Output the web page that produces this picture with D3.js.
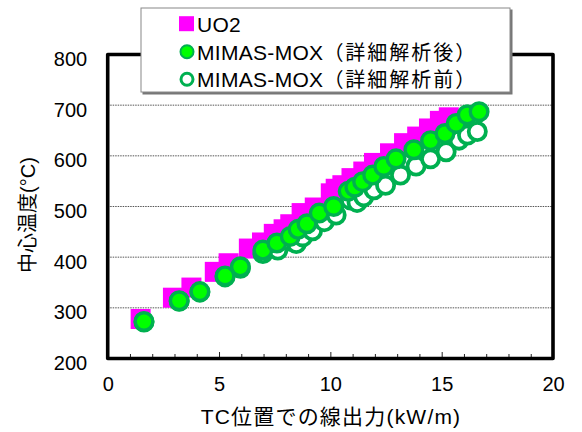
<!DOCTYPE html>
<html>
<head>
<meta charset="utf-8">
<script src="https://cdn.jsdelivr.net/npm/d3@7"></script>
<style>
  body { margin: 0; background: #fff; }
  svg { display: block; }
  text { font-family: "Liberation Sans", Arial, "Noto Sans CJK JP", sans-serif; fill: #000; }
  .cjk { font-family: "Noto Sans CJK JP", sans-serif; }
</style>
</head>
<body>
<svg id="chart" width="582" height="432"></svg>
<script>
// Centre temperature vs. linear heat rate at the TC position
const uo2Power = [1.48, 2.93, 3.76, 4.81, 5.43, 6.34, 6.93, 7.46, 7.90, 8.20, 8.71, 9.30, 10.02, 10.24, 10.54, 10.95, 11.48, 11.96, 12.68, 13.31, 13.90, 14.43, 14.92, 15.32];
const uo2Temp  = [278, 320, 340, 371, 388, 417, 429, 446, 455, 465, 487, 498, 526, 535, 542, 556, 569, 586, 605, 625, 638, 654, 669, 676];

const moxAfterPower = [1.63, 3.21, 4.14, 5.27, 5.96, 6.97, 7.60, 8.20, 8.55, 8.95, 9.50, 10.15, 10.80, 11.10, 11.45, 11.90, 12.40, 12.95, 13.75, 14.50, 15.15, 15.65, 16.15, 16.68];
const moxAfterTemp  = [273, 314, 332, 363, 381, 414, 428, 441, 455, 466, 487, 500, 530, 538, 549, 562, 579, 594, 612, 630, 644, 664, 681, 687];

const moxBeforePower = [1.63, 3.21, 4.14, 5.27, 5.96, 6.97, 7.64, 8.17, 8.47, 8.76, 9.20, 9.73, 10.26, 10.90, 11.20, 11.50, 11.96, 12.48, 13.15, 13.85, 14.50, 15.20, 15.78, 16.16, 16.60];
const moxBeforeTemp  = [272, 313, 331, 361, 378, 407, 414, 432, 427, 440, 452, 470, 483, 513, 508, 519, 533, 542, 562, 580, 594, 608, 631, 641, 648];

const xTicks = [0, 5, 10, 15, 20];
const yTicks = [200, 300, 400, 500, 600, 700, 800];
const gridValues = [300, 400, 500, 600, 700];

// legend names split into a Latin part and a Japanese part
const seriesLatin = ["UO2", "MIMAS-MOX", "MIMAS-MOX"];
const seriesJapanese = ["", "（詳細解析後）", "（詳細解析前）"];
const xTitle = "TC位置での線出力(kW/m)";
const yTitle = "中心温度(°C)";

const svg = d3.select("#chart");
const x = d3.scaleLinear().domain([0, 20]).range([107.7, 553]);
const y = d3.scaleLinear().domain([200, 800]).range([358.5, 54.5]);

// dotted horizontal gridlines
svg.append("g").selectAll("line").data(gridValues).join("line")
  .attr("x1", x(0)).attr("x2", x(20))
  .attr("y1", d => y(d)).attr("y2", d => y(d))
  .attr("stroke", "#555").attr("stroke-width", 1).attr("stroke-dasharray", "1.5,1");

// inward minor / major ticks along the bottom
const minorAxis = d3.axisBottom(x).tickValues(d3.range(0, 21, 1).filter(v => v % 5 !== 0)).tickSize(-4.5).tickFormat("");
const majorAxis = d3.axisBottom(x).tickValues(xTicks).tickSize(-6.5).tickFormat("");
[minorAxis, majorAxis].forEach(ax => {
  const g = svg.append("g").attr("transform", `translate(0,${y(200)})`).call(ax);
  g.select(".domain").remove();
  g.selectAll("line").attr("stroke", "#222").attr("stroke-width", 1);
});

// tick labels
const xLab = svg.append("g").attr("transform", `translate(0,${y(200)})`)
  .call(d3.axisBottom(x).tickValues(xTicks).tickSize(0).tickPadding(18.5));
xLab.select(".domain").remove();
xLab.selectAll("text").attr("font-size", 20).attr("fill", "#000")
  .style("font-family", '"Liberation Sans", Arial, sans-serif');

const yLab = svg.append("g").attr("transform", `translate(${x(0)},0)`)
  .call(d3.axisLeft(y).tickValues(yTicks).tickSize(0).tickPadding(20.5));
yLab.select(".domain").remove();
yLab.selectAll("text").attr("font-size", 20).attr("fill", "#000").attr("dy", "0.55em")
  .style("font-family", '"Liberation Sans", Arial, sans-serif');

// UO2 squares
const sq = 20;
svg.append("g").selectAll("rect").data(d3.zip(uo2Power, uo2Temp)).join("rect")
  .attr("x", d => x(d[0]) - sq / 2).attr("y", d => y(d[1]) - sq / 2)
  .attr("width", sq).attr("height", sq).attr("fill", "#FF00FF");

// MIMAS-MOX before detailed analysis: open circles
svg.append("g").selectAll("circle").data(d3.zip(moxBeforePower, moxBeforeTemp)).join("circle")
  .attr("cx", d => x(d[0])).attr("cy", d => y(d[1])).attr("r", 8.6)
  .attr("fill", "#fff").attr("stroke", "#00B050").attr("stroke-width", 3.8);

// MIMAS-MOX after detailed analysis: filled circles
svg.append("g").selectAll("circle").data(d3.zip(moxAfterPower, moxAfterTemp)).join("circle")
  .attr("cx", d => x(d[0])).attr("cy", d => y(d[1])).attr("r", 8.8)
  .attr("fill", "#00FF00").attr("stroke", "#00B050").attr("stroke-width", 3.4);

// plot frame
svg.append("rect")
  .attr("x", x(0)).attr("y", y(800))
  .attr("width", x(20) - x(0)).attr("height", y(200) - y(800))
  .attr("fill", "none").attr("stroke", "#000").attr("stroke-width", 3.6)
  .attr("stroke-linejoin", "round");

// axis titles
svg.append("text").attr("x", 331).attr("y", 424).attr("text-anchor", "middle")
  .attr("font-size", 21).attr("letter-spacing", 1.2).text(xTitle);
svg.append("text").attr("transform", "translate(35,215) rotate(-90)")
  .attr("text-anchor", "middle").attr("font-size", 20).text(yTitle);

// legend
const lg = svg.append("g");
lg.append("rect").attr("x", 142.5).attr("y", 9.5).attr("width", 370).attr("height", 85).attr("fill", "#777");
lg.append("rect").attr("x", 141).attr("y", 8).attr("width", 369).attr("height", 84)
  .attr("fill", "#fff").attr("stroke", "#888").attr("stroke-width", 1);
const rows = [31.5, 59.5, 87];
const markY = [23.7, 51.7, 79.3];
lg.append("rect").attr("x", 179).attr("y", markY[0] - 7.5).attr("width", 15).attr("height", 15).attr("fill", "#FF00FF");
lg.append("circle").attr("cx", 187).attr("cy", markY[1]).attr("r", 6.5)
  .attr("fill", "#00FF00").attr("stroke", "#00B050").attr("stroke-width", 2);
lg.append("circle").attr("cx", 187).attr("cy", markY[2]).attr("r", 6)
  .attr("fill", "#fff").attr("stroke", "#00B050").attr("stroke-width", 3);
const labs = lg.selectAll("text.lab").data(d3.range(3)).join("text").attr("class", "lab")
  .attr("x", 197).attr("y", i => rows[i]);
labs.append("tspan").attr("font-size", 21).attr("letter-spacing", 0.3).text(i => seriesLatin[i]);
labs.append("tspan").attr("class", "cjk").attr("font-size", 20).attr("letter-spacing", 2).text(i => seriesJapanese[i]);
</script>
</body>
</html>
